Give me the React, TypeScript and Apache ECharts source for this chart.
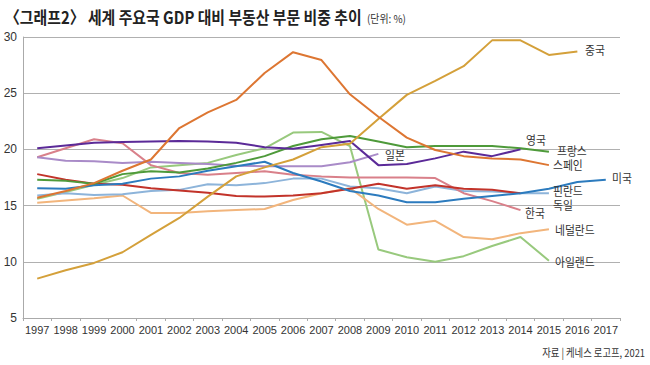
import React, { useEffect, useRef } from "react";
import * as echarts from "echarts";

const years = ["1997","1998","1999","2000","2001","2002","2003","2004","2005","2006","2007","2008","2009","2010","2011","2012","2013","2014","2015","2016","2017"];
const yTicks = { min: 5, max: 30, interval: 5 };

const china = [8.5, 9.25, 9.9, 10.85, 12.4, 13.9, 15.8, 17.6, 18.4, 19.1, 20.2, 20.5, 22.7, 24.85, 26.1, 27.4, 29.7, 29.7, 28.4, 28.7, null];
const spain = [15.7, 16.3, 17.0, 18.1, 19.1, 21.9, 23.3, 24.4, 26.8, 28.65, 27.95, 24.9, 22.9, 21.05, 19.95, 19.4, 19.2, 19.1, 18.6, null, null];
const uk = [20.1, 20.35, 20.6, 20.65, 20.7, 20.75, 20.7, 20.6, 20.2, 20.05, 20.4, 20.75, 18.6, 18.7, 19.2, 19.8, 19.4, 20.0, null, null, null];
const france = [17.3, 17.2, 16.95, 17.8, 18.05, 17.95, 18.3, 18.8, 19.4, 20.3, 20.9, 21.2, 20.7, 20.2, 20.3, 20.3, 20.3, 20.1, 19.8, null, null];
const japan = [19.3, 19.0, 18.95, 18.8, 18.9, 18.8, 18.7, 18.55, 18.5, 18.5, 18.5, 18.85, 19.6, null, null, null, null, null, null, null, null];
const usa = [16.55, 16.5, 16.8, 16.95, 17.4, 17.6, 18.1, 18.5, 18.9, 17.9, 17.15, 16.3, 15.9, 15.3, 15.3, 15.6, 15.85, 16.1, 16.5, 17.1, 17.3];
const finland = [15.9, 16.1, 15.95, 16.0, 16.3, 16.4, 16.9, 16.8, 17.0, 17.4, 17.4, 16.7, 16.55, 16.1, 16.7, 16.3, 16.25, 16.1, 16.1, null, null];
const germany = [17.8, 17.3, 16.95, 16.85, 16.55, 16.35, 16.15, 15.85, 15.8, 15.9, 16.1, 16.5, 16.95, 16.5, 16.8, 16.5, 16.4, 16.1, null, null, null];
const korea = [19.3, 20.1, 20.9, 20.55, 18.6, 17.9, 17.75, 17.9, 18.05, 17.75, 17.6, 17.5, 17.5, 17.5, 17.45, 16.1, 15.4, 14.6, null, null, null];
const netherlands = [15.25, 15.45, 15.65, 15.9, 14.35, 14.35, 14.5, 14.6, 14.7, 15.5, 16.1, 16.55, 14.7, 13.3, 13.65, 12.2, 12.0, 12.55, 12.9, null, null];
const ireland = [15.6, 16.2, 16.85, 17.45, 18.4, 18.6, 18.8, 19.5, 20.1, 21.5, 21.55, 20.3, 11.1, 10.4, 10.0, 10.5, 11.4, 12.2, 10.1, null, null];

const seriesDefs = [
  { name: "아일랜드", data: ireland, color: "#98C97D" },
  { name: "네덜란드", data: netherlands, color: "#F2B57C" },
  { name: "핀란드", data: finland, color: "#8DB4DA" },
  { name: "한국", data: korea, color: "#D9808A" },
  { name: "일본", data: japan, color: "#A98BC8" },
  { name: "독일", data: germany, color: "#C2332A" },
  { name: "미국", data: usa, color: "#2C7BBE" },
  { name: "프랑스", data: france, color: "#4E9A3A" },
  { name: "영국", data: uk, color: "#5B2A98" },
  { name: "중국", data: china, color: "#D4A03A" },
  { name: "스페인", data: spain, color: "#DD7632" },
];

const seriesLabels = [
  { text: "중국", x: 585, y: 50 },
  { text: "영국", x: 526, y: 140 },
  { text: "프랑스", x: 557, y: 151 },
  { text: "일본", x: 385, y: 155 },
  { text: "스페인", x: 553, y: 165 },
  { text: "미국", x: 612, y: 178 },
  { text: "핀란드", x: 553, y: 191 },
  { text: "독일", x: 553, y: 205 },
  { text: "한국", x: 525, y: 213 },
  { text: "네덜란드", x: 555, y: 230 },
  { text: "아일랜드", x: 555, y: 262 },
];

const FONT = '"Noto Sans CJK KR", "Noto Sans", sans-serif';

export default function App() {
  const ref = useRef<HTMLDivElement>(null);
  useEffect(() => {
    if (!ref.current) return;
    const chart = echarts.init(ref.current, undefined, { renderer: "svg" });
    const graphics: any[] = [
      {
        type: "text",
        x: 5,
        y: 17,
        scaleX: 0.875,
        style: {
          text: "〈그래프2〉 세계 주요국 GDP 대비 부동산 부문 비중 추이",
          font: `bold 17px ${FONT}`,
          fill: "#222",
          textAlign: "left",
          textVerticalAlign: "middle",
        },
      },
      {
        type: "text",
        x: 367,
        y: 18,
        scaleX: 0.9,
        style: {
          text: "(단위: %)",
          font: `11px ${FONT}`,
          fill: "#333",
          textAlign: "left",
          textVerticalAlign: "middle",
        },
      },
      {
        type: "text",
        x: 645,
        y: 352,
        scaleX: 0.85,
        style: {
          text: "자료 | 케네스 로고프, 2021",
          font: `11px ${FONT}`,
          fill: "#333",
          textAlign: "right",
          textVerticalAlign: "middle",
        },
      },
      ...seriesLabels.map((l) => ({
        type: "text",
        x: l.x,
        y: l.y,
        scaleX: 0.9,
        z: 100,
        style: {
          text: l.text,
          font: `12px ${FONT}`,
          fill: "#333",
          textAlign: "left",
          textVerticalAlign: "middle",
        },
      })),
    ];
    chart.setOption({
      animation: false,
      grid: { left: 23, right: 30, top: 37, bottom: 47, containLabel: false },
      xAxis: {
        type: "category",
        data: years,
        boundaryGap: true,
        axisLine: { lineStyle: { color: "#aaa", width: 1 } },
        axisTick: { show: true, lineStyle: { color: "#aaa" }, length: 3 },
        axisLabel: { color: "#333", fontSize: 11, margin: 6, fontFamily: "Liberation Sans Narrow, Liberation Sans, sans-serif", interval: 0 },
        splitLine: { show: false },
      },
      yAxis: {
        type: "value",
        min: yTicks.min,
        max: yTicks.max,
        interval: yTicks.interval,
        axisLine: { show: true, lineStyle: { color: "#aaa", width: 1 } },
        axisTick: { show: false },
        axisLabel: { color: "#333", fontSize: 12, margin: 6, fontFamily: "Liberation Sans, sans-serif" },
        splitLine: { show: true, lineStyle: { color: "#b0b0b0", width: 1 } },
      },
      series: seriesDefs.map((s) => ({
        name: s.name,
        type: "line",
        data: s.data,
        showSymbol: false,
        symbol: "none",
        connectNulls: false,
        lineStyle: { color: s.color, width: 2 },
        itemStyle: { color: s.color },
      })),
      graphic: graphics,
    });
    return () => chart.dispose();
  }, []);
  return <div ref={ref} style={{ width: 650, height: 365, position: "absolute", left: 0, top: 0 }} />;
}
